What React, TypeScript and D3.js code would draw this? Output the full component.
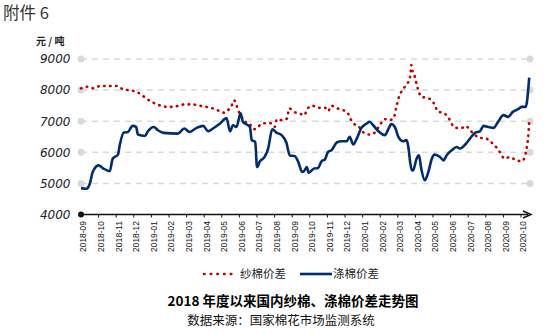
import React from "react";
import * as d3 from "d3";

const monthLabels: string[] = [
  "2018-09","2018-10","2018-11","2018-12","2019-01","2019-02","2019-03","2019-04","2019-05",
  "2019-06","2019-07","2019-08","2019-09","2019-10","2019-11","2019-12","2020-01","2020-02",
  "2020-03","2020-04","2020-05","2020-06","2020-07","2020-08","2020-09","2020-10",
];
const yTicks: number[] = [4000, 5000, 6000, 7000, 8000, 9000];

// 纱棉价差
const yarnSpread: [string, number][] = [
  ["2018-09-01",8055],["2018-09-13",8110],["2018-09-23",8055],["2018-10-03",8130],["2018-10-13",8130],
  ["2018-10-24",8130],["2018-11-04",8130],["2018-11-12",8030],["2018-11-21",8000],["2018-12-01",7970],
  ["2018-12-11",7890],["2018-12-20",7765],["2018-12-29",7645],["2019-01-07",7570],["2019-01-18",7495],
  ["2019-01-28",7460],["2019-02-09",7460],["2019-02-20",7515],["2019-02-28",7540],["2019-03-10",7540],
  ["2019-03-24",7495],["2019-04-05",7460],["2019-04-16",7410],["2019-04-28",7320],["2019-05-06",7270],
  ["2019-05-14",7410],["2019-05-18",7515],["2019-05-22",7675],["2019-05-26",7515],["2019-05-29",7355],
  ["2019-06-10",7000],["2019-06-19",6895],["2019-06-26",6740],["2019-07-03",6815],["2019-07-09",6925],
  ["2019-07-16",6935],["2019-07-24",6935],["2019-08-01",6815],["2019-08-05",7065],["2019-08-15",7030],
  ["2019-08-22",7085],["2019-08-26",7410],["2019-09-04",7300],["2019-09-13",7250],["2019-09-22",7195],
  ["2019-09-26",7385],["2019-10-06",7495],["2019-10-15",7430],["2019-10-27",7430],["2019-11-02",7320],
  ["2019-11-08",7495],["2019-11-18",7410],["2019-11-28",7355],["2019-12-06",7250],["2019-12-10",7085],
  ["2019-12-16",6925],["2019-12-25",6815],["2020-01-05",6600],["2020-01-13",6570],["2020-01-22",6635],
  ["2020-02-02",6925],["2020-02-09",7065],["2020-02-16",7030],["2020-02-24",7105],["2020-02-28",7410],
  ["2020-03-03",7785],["2020-03-07",7945],["2020-03-13",8105],["2020-03-17",8215],["2020-03-21",8325],
  ["2020-03-23",8615],["2020-03-24",8805],["2020-03-27",8540],["2020-03-30",8430],["2020-04-02",8270],
  ["2020-04-05",8055],["2020-04-11",7785],["2020-04-20",7750],["2020-04-29",7675],["2020-05-04",7515],
  ["2020-05-10",7300],["2020-05-16",7280],["2020-05-24",7195],["2020-05-30",7030],["2020-06-05",6850],
  ["2020-06-11",6785],["2020-06-20",6785],["2020-06-27",6850],["2020-07-04",6710],["2020-07-13",6550],
  ["2020-07-21",6460],["2020-07-29",6460],["2020-08-08",6355],["2020-08-17",6205],["2020-08-25",6010],
  ["2020-09-03",5795],["2020-09-12",5850],["2020-09-20",5775],["2020-10-02",5710],["2020-10-08",5880],
  ["2020-10-10",6065],["2020-10-13",6440],["2020-10-15",6980],
];

// 涤棉价差
const polySpread: [string, number][] = [
  ["2018-09-01",4848],["2018-09-10",4830],["2018-09-16",4990],["2018-09-21",5365],["2018-10-01",5580],
  ["2018-10-08",5495],["2018-10-20",5390],["2018-10-25",5795],["2018-11-04",5925],["2018-11-07",6225],
  ["2018-11-14",6635],["2018-11-21",6655],["2018-11-29",6850],["2018-12-05",6815],["2018-12-08",6570],
  ["2018-12-20",6525],["2018-12-25",6675],["2019-01-05",6815],["2019-01-12",6710],["2019-01-22",6625],
  ["2019-02-16",6600],["2019-02-27",6765],["2019-03-06",6655],["2019-03-18",6785],["2019-03-29",6850],
  ["2019-04-08",6675],["2019-04-16",6765],["2019-04-28",6925],["2019-05-09",7105],["2019-05-15",6675],
  ["2019-05-20",6870],["2019-05-26",6815],["2019-06-03",7250],["2019-06-07",6980],["2019-06-19",6815],
  ["2019-06-22",6390],["2019-06-28",6335],["2019-07-01",5525],["2019-07-06",5710],["2019-07-14",5850],
  ["2019-07-20",6120],["2019-07-27",6740],["2019-08-04",6635],["2019-08-13",6550],["2019-08-21",6315],
  ["2019-08-27",5900],["2019-09-05",5880],["2019-09-11",5710],["2019-09-18",5365],["2019-09-21",5390],
  ["2019-09-26",5525],["2019-09-29",5345],["2019-10-08",5475],["2019-10-15",5495],["2019-10-21",5710],
  ["2019-10-27",5775],["2019-11-02",6010],["2019-11-08",6065],["2019-11-17",6315],["2019-11-25",6355],
  ["2019-12-04",6355],["2019-12-09",6495],["2019-12-15",6250],["2019-12-21",6440],["2019-12-29",6785],
  ["2020-01-08",6925],["2020-01-13",6980],["2020-01-19",6870],["2020-01-28",6675],["2020-02-09",6550],
  ["2020-02-14",6710],["2020-02-20",6905],["2020-02-26",6815],["2020-03-02",6495],["2020-03-10",6355],
  ["2020-03-16",6390],["2020-03-19",6170],["2020-03-22",5690],["2020-03-25",5420],["2020-03-27",5420],
  ["2020-04-03",5795],["2020-04-07",5900],["2020-04-11",5475],["2020-04-17",5100],["2020-04-23",5365],
  ["2020-04-29",5795],["2020-05-04",5925],["2020-05-13",5850],["2020-05-19",5740],["2020-05-24",5900],
  ["2020-06-03",6065],["2020-06-11",6170],["2020-06-17",6120],["2020-06-26",6250],["2020-07-04",6440],
  ["2020-07-13",6635],["2020-07-21",6675],["2020-07-27",6850],["2020-08-05",6815],["2020-08-14",6785],
  ["2020-08-22",6980],["2020-08-31",7195],["2020-09-09",7140],["2020-09-17",7300],["2020-09-26",7385],
  ["2020-10-02",7460],["2020-10-09",7460],["2020-10-15",8400],
];

const toMonthIndex = (s: string) => {
  const [y, m, d] = s.split("-").map(Number);
  return (y - 2018) * 12 + (m - 9) + (d - 1) / 30;
};

const RED = "#c00000";
const BLUE = "#002d6e";
const CJK = "'Noto Sans CJK SC', 'Noto Sans', sans-serif";

export default function App() {
  const W = 545, H = 334;
  const x0 = 81, xEnd = 530;
  const x = d3.scaleLinear().domain([0, 25]).range([x0, x0 + 17.6 * 25]);
  const y = d3.scaleLinear().domain([4000, 9000]).range([214.5, 59]);

  const line = d3
    .line<[string, number]>()
    .x((d) => x(toMonthIndex(d[0])))
    .y((d) => y(d[1]))
    .curve(d3.curveMonotoneX);

  return (
    <svg width={W} height={H} style={{ position: "absolute", left: 0, top: 0, background: "#fff" }}>
      <text x={3} y={19} fontFamily={CJK} fontSize={16.5} fill="#333">附件 6</text>
      <text x={36} y={45} fontFamily={CJK} fontSize={10} fontWeight="bold" fill="#222">元 / 吨</text>

      {/* gridlines */}
      {yTicks.slice(1).map((t) => (
        <g key={t}>
          <line x1={x0} x2={xEnd} y1={y(t)} y2={y(t)} stroke="#d9d9d9" strokeWidth={1.5} strokeDasharray="6 5" />
          <circle cx={x0} cy={y(t)} r={3.5} fill="#d9d9d9" />
          <circle cx={xEnd} cy={y(t)} r={3.5} fill="#d9d9d9" />
        </g>
      ))}
      {yTicks.map((t) => (
        <text key={t} x={70.5} y={y(t)} dy="0.36em" textAnchor="end" fontFamily="'DejaVu Sans', sans-serif"
          fontStyle="italic" fontSize={12} fill="#222">{t}</text>
      ))}

      {/* x axis */}
      <line x1={x0} x2={xEnd - 2} y1={y(4000)} y2={y(4000)} stroke="#111" strokeWidth={1.5} />
      <circle cx={x0} cy={y(4000)} r={3} fill="#111" />
      <path d={`M${xEnd - 7},${y(4000) - 3.5} L${xEnd + 1},${y(4000)} L${xEnd - 7},${y(4000) + 3.5}`} fill="none" stroke="#111" strokeWidth={1.5} />
      {monthLabels.map((m, i) => (
        <g key={m}>
          {i > 0 && <line x1={x(i)} x2={x(i)} y1={y(4000)} y2={y(4000) + 3} stroke="#111" strokeWidth={1} />}
          <text transform={`translate(${x(i) + 2},${221}) rotate(-90)`} dy="0.35em" textAnchor="end"
            fontFamily="'Liberation Sans', Arial, sans-serif" fontSize={9.5} textLength={31}
            lengthAdjust="spacingAndGlyphs" fill="#111">{m}</text>
        </g>
      ))}

      {/* series */}
      <path d={line(yarnSpread) || ""} fill="none" stroke={RED} strokeWidth={2.6}
        strokeDasharray="0.5 5.5" strokeLinecap="round" />
      <path d={line(polySpread) || ""} fill="none" stroke={BLUE} strokeWidth={2.6}
        strokeLinejoin="round" />

      {/* legend */}
      <line x1={204} x2={232} y1={274} y2={274} stroke={RED} strokeWidth={2.6} strokeDasharray="0.5 6.2" strokeLinecap="round" />
      <text x={240} y={274} dy="0.36em" fontFamily={CJK} fontSize={11.5} fill="#222">纱棉价差</text>
      <line x1={300} x2={332} y1={274} y2={274} stroke={BLUE} strokeWidth={2.6} />
      <text x={333} y={274} dy="0.36em" fontFamily={CJK} fontSize={11.5} fill="#222">涤棉价差</text>

      <text x={293} y={301.5} dy="0.36em" textAnchor="middle" fontFamily={CJK} fontSize={13.5} fontWeight="bold" fill="#000">
        2018 年度以来国内纱棉、涤棉价差走势图
      </text>
      <text x={281} y={320.5} dy="0.36em" textAnchor="middle" fontFamily={CJK} fontSize={12.5} fill="#111">
        数据来源：国家棉花市场监测系统
      </text>
    </svg>
  );
}
